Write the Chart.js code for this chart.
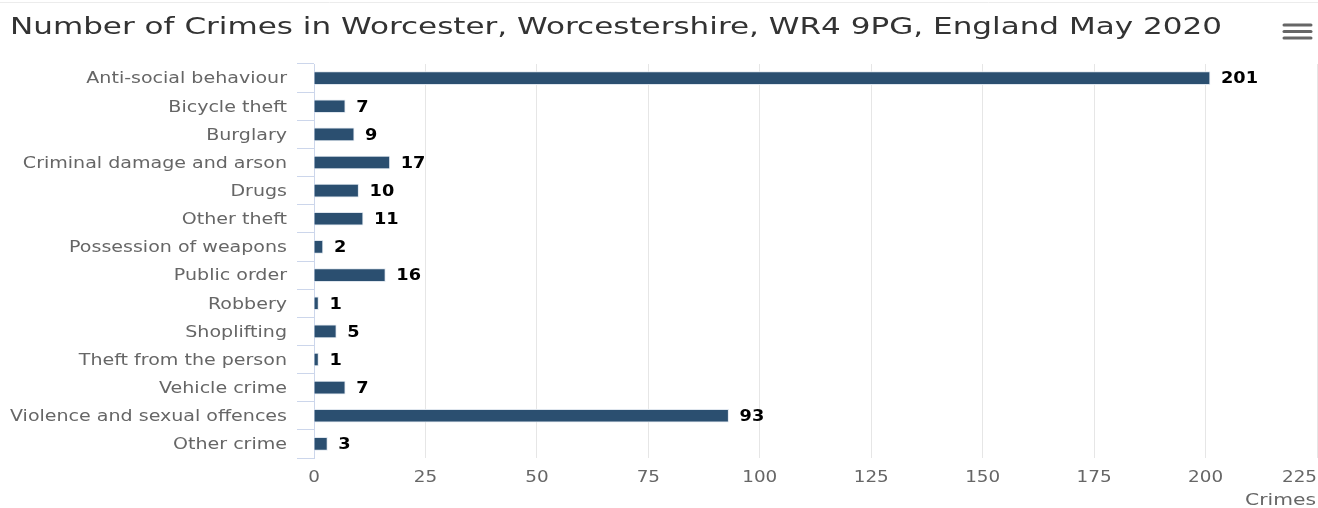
<!DOCTYPE html>
<html>
<head>
<meta charset="utf-8">
<script src="https://cdn.jsdelivr.net/npm/chart.js@4/dist/chart.umd.min.js"></script>
<style>
  html, body { margin: 0; padding: 0; background: #fff; overflow: hidden; }
  #wrap { width: 1318px; height: 508px; position: relative; }
</style>
</head>
<body>
<div id="wrap"><canvas id="crimeChart" width="1318" height="508"></canvas></div>
<script>
// chart data
var chartTitle = "Number of Crimes in Worcester, Worcestershire, WR4 9PG, England May 2020";
var crimeTypes = [
  "Anti-social behaviour", "Bicycle theft", "Burglary", "Criminal damage and arson",
  "Drugs", "Other theft", "Possession of weapons", "Public order", "Robbery",
  "Shoplifting", "Theft from the person", "Vehicle crime",
  "Violence and sexual offences", "Other crime"
];
var crimeCounts = [201, 7, 9, 17, 10, 11, 2, 16, 1, 5, 1, 7, 93, 3];
var xTickValues = [0, 25, 50, 75, 100, 125, 150, 175, 200, 225];
var xAxisTitle = "Crimes";

var FONT = "'DejaVu Sans', Verdana, sans-serif";

// the reference text looks a bit stretched sideways, so draw it with a x-scale
function wideText(ctx, text, x, y, align, sx){
  ctx.save();
  ctx.translate(x, y);
  ctx.scale(sx, 1);
  ctx.textAlign = align;
  ctx.fillText(text, 0, 0);
  ctx.restore();
}
function fitScale(ctx, sample, target){
  return target / ctx.measureText(sample).width;
}

var decorPlugin = {
  id: "decor",
  beforeDraw: function(chart){
    var ctx = chart.ctx;
    ctx.save();
    ctx.fillStyle = "#fff";
    ctx.fillRect(0, 0, chart.width, chart.height);
    // faint top border
    ctx.strokeStyle = "#ececec";
    ctx.lineWidth = 1;
    ctx.beginPath(); ctx.moveTo(0, 2.5); ctx.lineTo(chart.width, 2.5); ctx.stroke();
    // title
    ctx.font = "23px " + FONT;
    ctx.fillStyle = "#333";
    ctx.textBaseline = "middle";
    wideText(ctx, chartTitle, 10, 28, "left", fitScale(ctx, chartTitle, 1212));
    // menu icon
    ctx.strokeStyle = "#666";
    ctx.lineWidth = 3;
    ctx.lineCap = "round";
    [25, 31.5, 38].forEach(function(y){
      ctx.beginPath(); ctx.moveTo(1284, y); ctx.lineTo(1311, y); ctx.stroke();
    });
    ctx.restore();
  },
  afterDraw: function(chart){
    var ctx = chart.ctx;
    var xs = chart.scales.x, ys = chart.scales.y;
    ctx.save();
    ctx.textBaseline = "middle";

    // category labels
    ctx.font = "15px " + FONT;
    ctx.fillStyle = "#666";
    var sxCat = fitScale(ctx, "Violence and sexual offences", 277);
    crimeTypes.forEach(function(name, i){
      wideText(ctx, name, 287, ys.getPixelForValue(i) + 1.5, "right", sxCat);
    });

    // value axis labels (last one is pushed inside the canvas like the original)
    ctx.font = "15px " + FONT;
    var sxTick = fitScale(ctx, "175", 35);
    xTickValues.forEach(function(v){
      var px = xs.getPixelForValue(v);
      var half = ctx.measureText(String(v)).width * sxTick / 2;
      if (px + half > chart.width - 1) px = chart.width - 1 - half;
      wideText(ctx, String(v), px, 478, "center", sxTick);
    });

    // axis title
    ctx.font = "16px " + FONT;
    wideText(ctx, xAxisTitle, 1316, 501, "right", fitScale(ctx, xAxisTitle, 71));

    // data labels
    ctx.font = "bold 15px " + FONT;
    ctx.fillStyle = "#000";
    var sxVal = fitScale(ctx, "201", 37);
    chart.getDatasetMeta(0).data.forEach(function(bar, i){
      wideText(ctx, String(crimeCounts[i]), bar.x + 11, bar.y + 1.5, "left", sxVal);
    });
    ctx.restore();
  }
};

var chart = new Chart(document.getElementById("crimeChart"), {
  type: "bar",
  data: {
    labels: crimeTypes,
    datasets: [{
      data: crimeCounts,
      backgroundColor: "#2b4f70",
      borderColor: "#dfe6ee",
      borderWidth: 1,
      barThickness: 13
    }]
  },
  options: {
    indexAxis: "y",
    responsive: false,
    animation: false,
    devicePixelRatio: 1,
    layout: { padding: { top: 64, left: 0, right: 1, bottom: 0 } },
    plugins: {
      legend: { display: false },
      tooltip: { enabled: false },
      title: { display: false }
    },
    scales: {
      x: {
        type: "linear",
        min: 0,
        max: 225,
        ticks: { display: false, stepSize: 25 },
        grid: { color: "#e6e6e6", lineWidth: 1, drawTicks: false },
        border: { display: false },
        afterFit: function(scale){
          scale.height = 50;
          scale.paddingLeft = 0;
          scale.paddingRight = 0;
        }
      },
      y: {
        type: "category",
        ticks: { display: false },
        grid: { offset: true, drawOnChartArea: false, drawTicks: true, tickLength: 17, color: "#ccd6eb" },
        border: { display: true, color: "#ccd6eb" },
        afterFit: function(scale){
          scale.width = 314;
          scale.paddingTop = 0;
          scale.paddingBottom = 0;
        }
      }
    }
  },
  plugins: [decorPlugin]
});
</script>
</body>
</html>
